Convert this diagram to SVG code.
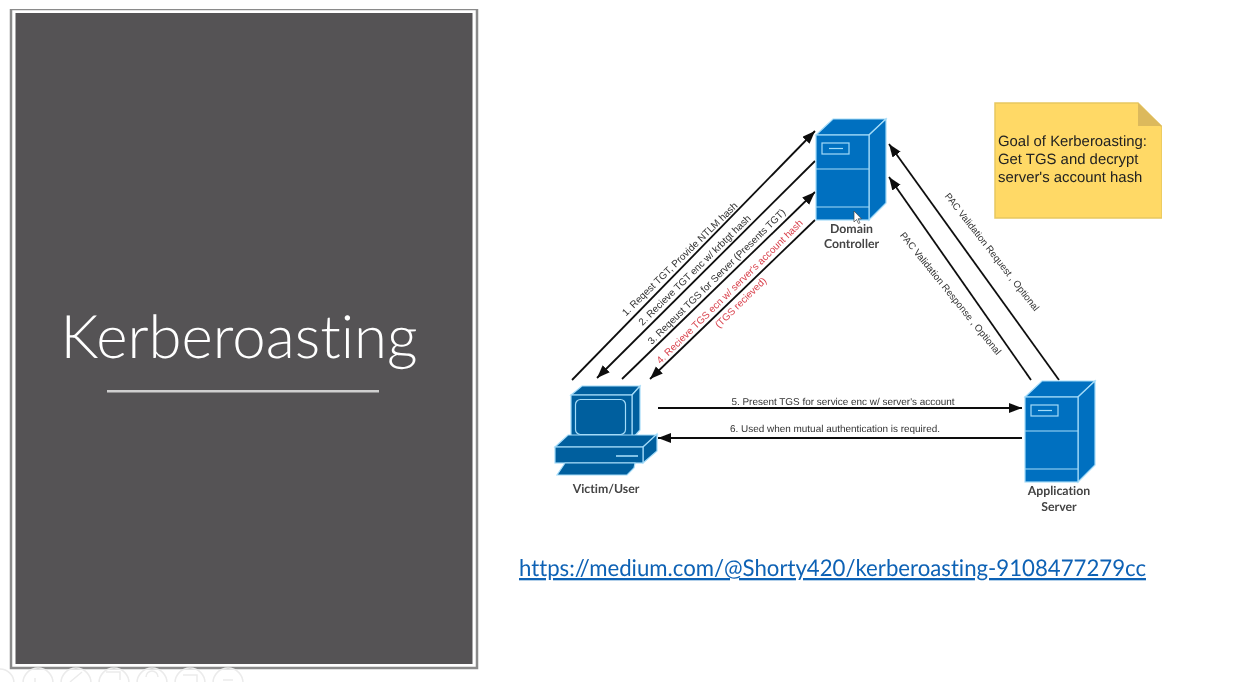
<svg xmlns="http://www.w3.org/2000/svg" width="1235" height="682" viewBox="0 0 1235 682">
<style>
text{font-family:"Liberation Sans",Arial,sans-serif;text-rendering:geometricPrecision;font-variant-ligatures:none}
.lbl{font-size:9.950px;fill:#333;text-anchor:middle}
.pac{font-size:9.700px;fill:#333;text-anchor:middle}
.red{font-size:9.950px;fill:#d9434e;text-anchor:middle}
.cap{font-family:"Lato","Open Sans",sans-serif;font-size:12.300px;font-weight:700;fill:#444;text-anchor:middle}
.conn{stroke:#111;stroke-width:1.8;fill:none;marker-end:url(#arr)}
.srv{fill:#0070c0;stroke:#a3dbf8;stroke-width:1.200}
.pc{fill:#005f9e;stroke:#a3dbf8;stroke-width:1.200}
.tb{fill:none;stroke:#ebebeb;stroke-width:1.500}
</style>
<defs>
<filter id="soft" x="0" y="0" width="100%" height="100%" filterUnits="objectBoundingBox"><feGaussianBlur stdDeviation="0.35"/></filter>
<marker id="arr" markerUnits="userSpaceOnUse" markerWidth="14" markerHeight="12" refX="13" refY="5" orient="auto">
<path d="M0 0L13 5L0 10z" fill="#111"/>
</marker>
<g id="server">
<path class="srv" d="M0 16L17 0H70L53 16z"/>
<path class="srv" d="M53 16L70 0V84L53 101z"/>
<rect class="srv" x="0" y="16" width="53" height="85"/>
<path d="M0 50H53M0 88H53" stroke="#a3dbf8" stroke-width="1.200" fill="none"/>
<rect x="6" y="24" width="27" height="11" fill="none" stroke="#a3dbf8" stroke-width="1.200"/>
<path d="M13 29.500H27" stroke="#a3dbf8" stroke-width="1.200"/>
</g>
</defs>
<rect width="1235" height="682" fill="#fff"/>
<g filter="url(#soft)">
<g id="slide-panel">
<rect x="11" y="9" width="466" height="659" fill="#fff" stroke="#8a8a8a" stroke-width="2.500"/>
<rect x="15.500" y="13" width="457" height="651" fill="#545254"/>
<text x="239" y="358" font-size="60" font-weight="300" fill="#fff" text-anchor="middle" textLength="357" lengthAdjust="spacingAndGlyphs" style="font-family:Lato,'Open Sans',sans-serif">Kerberoasting</text>
<rect x="107" y="390" width="272" height="2.500" fill="#cfcfcf"/>
</g>
<g id="connectors">
<path class="conn" d="M572 380L815 131"/>
<path class="conn" d="M815 161L597 378"/>
<path class="conn" d="M622 379L815 192"/>
<path class="conn" d="M815 220L650 379"/>
<path class="conn" d="M658 408H1022"/>
<path class="conn" d="M1022 438H658"/>
<path class="conn" d="M1059 380L889 144"/>
<path class="conn" d="M1031 380L889 177"/>
</g>
<g id="connector-labels">
<text class="lbl" transform="translate(682 261.500) rotate(-44.500)">1. Reqest TGT, Provide NTLM hash</text>
<text class="lbl" transform="translate(697 272.500) rotate(-44.500)">2. Recieve TGT enc w/ krbtgt hash</text>
<text class="lbl" transform="translate(719 279) rotate(-44.500)">3. Reqeust TGS for Server (Presents TGT)</text>
<text class="red" transform="translate(732 294) rotate(-44.500)">4. Recieve TGS ecn w/ server's account hash</text>
<text class="red" transform="translate(743 305) rotate(-44.500)">(TGS recieved)</text>
<text class="pac" transform="translate(989.500 254) rotate(52)">PAC Validation Request , Optional</text>
<text class="pac" transform="translate(948 295.500) rotate(51)">PAC Validation Response , Optional</text>
<text class="lbl" x="843" y="405">5. Present TGS for service enc w/ server's account</text>
<text class="lbl" x="835" y="432">6. Used when mutual authentication is required.</text>
</g>
<g id="domain-controller">
<use href="#server" x="816" y="119"/>
<path d="M854 211v11l2.500-2.500 2 4 1.500-.7-2-4h3.500z" fill="#fff" stroke="#444" stroke-width=".7"/>
<text class="cap" x="851.500" y="233">Domain</text>
<text class="cap" x="851.500" y="248">Controller</text>
</g>
<g id="application-server">
<use href="#server" x="1025" y="381"/>
<text class="cap" x="1059" y="495">Application</text>
<text class="cap" x="1059" y="511">Server</text>
</g>
<g id="victim-user">
<path class="pc" d="M571 395L582 386H640L632 395z"/>
<path class="pc" d="M632 395L640 386V430L632 439z"/>
<rect class="pc" x="571" y="395" width="61" height="44"/>
<rect x="575.500" y="399.500" width="50" height="35" rx="5" fill="none" stroke="#a3dbf8" stroke-width="1.200"/>
<path class="pc" d="M555 447L568 435H657L643 447z"/>
<path class="pc" d="M643 447L657 434V451L643 463z"/>
<rect class="pc" x="555" y="447" width="88" height="16"/>
<path d="M616 456H638" stroke="#a3dbf8" stroke-width="1.600"/>
<path class="pc" d="M565 463H635L634 468L627 475H557z"/>
<text class="cap" x="606" y="493">Victim/User</text>
</g>
<g id="goal-note">
<path d="M995 103H1138L1162 127V218H995z" fill="#ffd966" stroke="#e8c75f" stroke-width="1.500"/>
<path d="M1138 103V126H1162z" fill="#dcb95c"/>
<text x="998" y="146" font-size="14.900" fill="#222">Goal of Kerberoasting:</text>
<text x="998" y="164" font-size="14.900" fill="#222">Get TGS and decrypt</text>
<text x="998" y="182" font-size="14.900" fill="#222">server's account hash</text>
</g>
<g id="link">
<text x="519" y="576" font-size="23" fill="#0f62b5" textLength="627" lengthAdjust="spacingAndGlyphs" text-decoration="underline" style="font-family:Lato,'Open Sans',sans-serif">https://medium.com/@Shorty420/kerberoasting-9108477279cc</text>
</g>
<g id="toolbar">
<circle class="tb" cx="0" cy="683" r="14"/>
<circle class="tb" cx="38" cy="683" r="15"/>
<circle class="tb" cx="76" cy="683" r="15"/>
<circle class="tb" cx="114" cy="683" r="15"/>
<circle class="tb" cx="152" cy="683" r="15"/>
<circle class="tb" cx="190" cy="683" r="15"/>
<circle class="tb" cx="228" cy="683" r="15"/>
<path class="tb" d="M35 678V682M70 682L82 672M106 672H120V680M146 677a6 6 0 0 1 12 0M183 675H197V682M223 680H233"/>
</g>
</g>
</svg>
